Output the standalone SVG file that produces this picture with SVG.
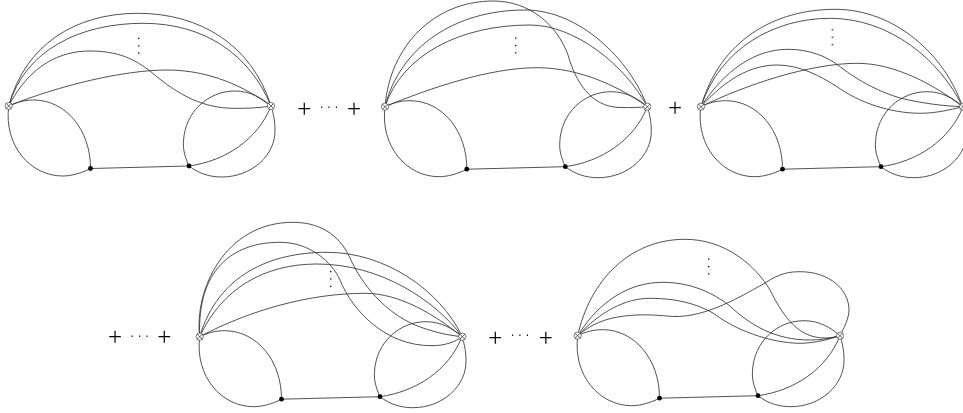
<svg xmlns="http://www.w3.org/2000/svg" width="963" height="413" viewBox="0 0 963 413">
<style>
.l{fill:none;stroke:#333;stroke-width:0.85}
.c{fill:#fff;stroke:#444;stroke-width:0.7}
.x{fill:none;stroke:#222;stroke-width:0.7}
.d{fill:#000}
.p{font-family:"Liberation Serif",serif;font-size:25px;text-anchor:middle;fill:#000}
.e{font-family:"Liberation Sans",Arial,sans-serif;font-size:12px;letter-spacing:4.1px;fill:#000}
#labels{opacity:.99}
</style>
<defs>
<g id="base">
<path class="l" d="M0 0C8 -4 16 -6 25 -6C57 -6 82 24 81.8 62.5"/>
<path class="l" d="M0 0C-5 40 22 70 54 70C63 70 73 67 81.8 62.5"/>
<path class="l" d="M81.8 62.5L180.3 60"/>
<path class="l" d="M180.3 60C175.3 49 174.3 42 174.8 35C176.3 6 199.3 -15 226.3 -15C241.3 -15 253.3 -8 262.3 0"/>
<path class="l" d="M180.3 60C189.3 67 200.3 71 213 71C243.3 71 266.8 49 266.3 24C266.3 14 264.3 6 262.3 0"/>
<path class="l" d="M180.3 60C216 55 249 34 262.3 0"/>
</g>
<g id="vx"><circle class="c" r="3.6"/><path class="x" d="M-2.5 -2.5L2.5 2.5M-2.5 2.5L2.5 -2.5"/></g>
</defs>
<g id="connectors">
<use href="#base" x="8.7" y="106"/>
<path class="l" d="M8.7 106C25 45 75 13.3 138 13.3C200 13.3 252 45 271 106"/>
<path class="l" d="M8.7 106C25 50 80 23.3 143 23.3C205 23.3 250 55 271 106"/>
<path class="l" d="M8.7 106C30 65 60 51 90 51C125 51 140 64 150 71C180 97 205 108 233 108.3C245 108.5 260 108 271 106"/>
<path class="l" d="M8.7 106C60 85 125 70 167 70C210 70 245 87 271 106"/>
<use href="#base" x="385" y="106.7"/>
<path class="l" d="M385 106.7C390 45 435 1 493 1C530 1 557 25 568 55C575 80 590 107 620 107.5C630 107.7 640 107.5 647.3 106.7"/>
<path class="l" d="M385 106.7C400 47 455 10 525 10C580 10 630 60 647.3 106.7"/>
<path class="l" d="M385 106.7C402 55 460 25 530 25C575 25 625 65 647.3 106.7"/>
<path class="l" d="M385 106.7C430 88 490 67.7 537 67.7C580 67.7 620 87 647.3 106.7"/>
<use href="#base" x="700.7" y="106.7"/>
<path class="l" d="M701 106.7C720 40 775 9.3 835 9.3C895 9.3 945 55 962.5 106.7"/>
<path class="l" d="M701 106.7C720 48 775 18.3 830 18.3C890 18.3 940 60 962.5 106.7"/>
<path class="l" d="M701 106.7C725 70 755 49.3 788 49.3C810 49.3 828 57 840 66.7C860 82 880 92 900 98C925 104 945 106 962.5 106.7"/>
<path class="l" d="M701 106.7C725 80 750 65 777 65C800 65 820 76 837 86.7C860 103 890 113 920 113.3C935 113.3 950 110 962.5 106.7"/>
<path class="l" d="M701 106.7C745 85 810 63.3 857 63.3C895 63.3 935 85 962.5 106.7"/>
<use href="#base" x="199.7" y="336.7"/>
<path class="l" d="M199.7 336.7C194 290 225 222.3 293 222.3C325 222.3 342 240 350 258C362 285 385 312 415 325C430 331 445 335 462.3 336.7"/>
<path class="l" d="M199.7 336.7C197 270 232 242.3 280 242.3C310 242.3 332 262 340 280C352 310 385 346 432 345.7C445 345.7 455 342 462.3 336.7"/>
<path class="l" d="M199.7 336.7C218 275 270 252.3 327 252.3C385 252.3 440 290 462.3 336.7"/>
<path class="l" d="M199.7 336.7C222 288 265 264 317 264C380 264 435 300 462.3 336.7"/>
<path class="l" d="M199.7 336.7C250 310 310 293.3 365 293.3C400 293.3 435 315 462.3 336.7"/>
<use href="#base" x="577.7" y="335.7"/>
<path class="l" d="M577.7 335.7C590 280 630 239.3 685 239.3C725 239.3 755 265 770 290C785 320 800 338 825 338C830 338 836 337 840 335.7"/>
<path class="l" d="M577.7 335.7C600 300 630 282.3 663 282.3C690 282.3 712 292 730 306C750 325 775 340 810 340C822 340 832 338 840 335.7"/>
<path class="l" d="M577.7 335.7C600 312 625 298.3 650 298.3C675 298.3 695 303 713 313C735 330 770 343 800 343.3C815 343.3 830 339 840 335.7"/>
<path class="l" d="M577.7 335.7C590 325 605 318 625 316C640 314 655 315 667 316C700 320 735 300 765 283C780 273 790 271.7 800 271.7C830 271.7 849 290 849 310C849 318 844 328 840 335.7"/>
</g>
<g id="node-a1"><use href="#vx" x="8.7" y="106"/></g>
<g id="node-a2"><circle class="d" cx="90.5" cy="168.5" r="2.4"/></g>
<g id="node-a3"><circle class="d" cx="189" cy="166" r="2.4"/></g>
<g id="node-a4"><use href="#vx" x="271" y="106"/></g>
<g id="node-b1"><use href="#vx" x="385" y="106.7"/></g>
<g id="node-b2"><circle class="d" cx="466.8" cy="169.2" r="2.4"/></g>
<g id="node-b3"><circle class="d" cx="565.3" cy="166.7" r="2.4"/></g>
<g id="node-b4"><use href="#vx" x="647.3" y="106.7"/></g>
<g id="node-c1"><use href="#vx" x="701" y="106.7"/></g>
<g id="node-c2"><circle class="d" cx="782.5" cy="169.2" r="2.4"/></g>
<g id="node-c3"><circle class="d" cx="881" cy="166.7" r="2.4"/></g>
<g id="node-c4"><use href="#vx" x="963" y="106.7"/></g>
<g id="node-d1"><use href="#vx" x="199.7" y="336.7"/></g>
<g id="node-d2"><circle class="d" cx="281.5" cy="399.2" r="2.4"/></g>
<g id="node-d3"><circle class="d" cx="380" cy="396.7" r="2.4"/></g>
<g id="node-d4"><use href="#vx" x="462.3" y="336.7"/></g>
<g id="node-e1"><use href="#vx" x="577.7" y="335.7"/></g>
<g id="node-e2"><circle class="d" cx="659.5" cy="398.2" r="2.4"/></g>
<g id="node-e3"><circle class="d" cx="758" cy="395.7" r="2.4"/></g>
<g id="node-e4"><use href="#vx" x="840" y="335.7"/></g>
<g id="labels">
<text class="p" x="304.3" y="116.5">+</text>
<text class="e" x="319.9" y="108">...</text>
<text class="p" x="354" y="116.5">+</text>
<text class="p" x="675" y="115.5">+</text>
<text class="p" x="115" y="345">+</text>
<text class="e" x="130.5" y="336.7">...</text>
<text class="p" x="164.3" y="345">+</text>
<text class="p" x="495.3" y="345.5">+</text>
<text class="e" x="510.9" y="336.4">...</text>
<text class="p" x="545.7" y="345.5">+</text>
<text class="e" transform="translate(138.4 36.7) rotate(90)">...</text>
<text class="e" transform="translate(515.4 36.5) rotate(90)">...</text>
<text class="e" transform="translate(831.7 28.2) rotate(90)">...</text>
<text class="e" transform="translate(330.1 269.9) rotate(90)">...</text>
<text class="e" transform="translate(708.1 257.5) rotate(90)">...</text>
</g>
</svg>
